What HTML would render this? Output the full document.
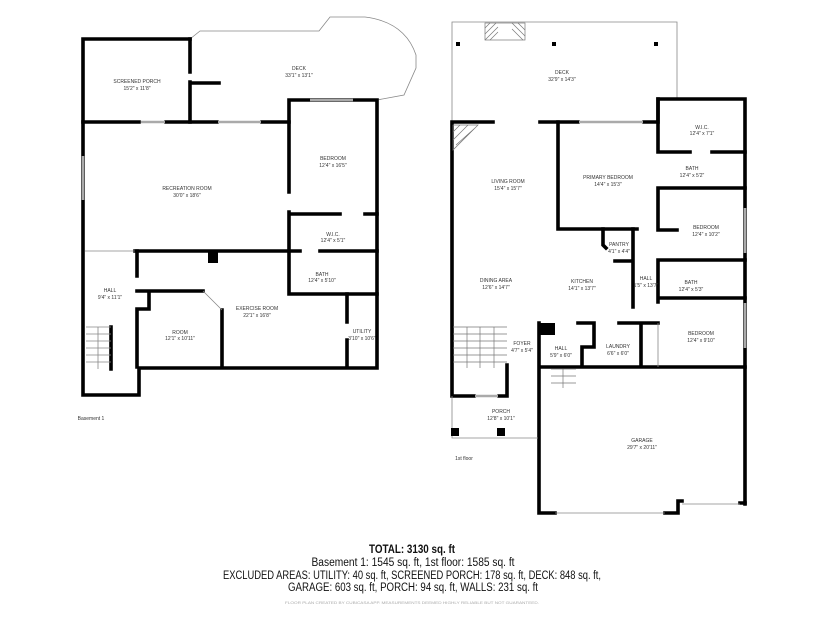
<!DOCTYPE html>
<html><head><meta charset="utf-8"><style>
html,body{margin:0;padding:0;background:#fff;}
svg{display:block;}
.w{stroke:#000;stroke-width:3.6;fill:none;stroke-linecap:square;}
.t{stroke:#888;stroke-width:0.8;fill:none;}
.win{stroke:#aaa;stroke-width:2.5;fill:none;}
.l{font-family:"Liberation Sans",sans-serif;font-size:5px;fill:#333;text-anchor:middle;}
.b{font-family:"Liberation Sans",sans-serif;font-size:11.5px;fill:#111;text-anchor:middle;}
</style></head><body>
<svg width="825" height="619" viewBox="0 0 825 619" xmlns="http://www.w3.org/2000/svg">
<!-- BASEMENT -->
<path class="t" d="M190,39 L200,31 L319,31 L330,17 L365,17 Q405,22 416,55 L416,68 L404,95 L377,100"/>
<path class="w" d="M190,39 L83,39 L83,395 L139,395 L139,368 L377,368 L377,100 L289,100 L289,192"/>
<path class="w" d="M190,39 L190,72 M190,82 L190,122 M190,83 L219,83"/>
<path class="w" d="M83,122 L139,122 M166,122 L217,122 M262,122 L289,122"/>
<path class="win" d="M141,122 L165,122 M218,122 L261,122 M310,100 L353,100 M83,156 L83,200"/>
<path class="w" d="M289,212 L289,294 L377,294 M289,214 L340,214 M365,214 L377,214"/>
<path class="w" d="M135,251 L300,251 M320,251 L377,251"/>
<rect x="208" y="252" width="10" height="11" fill="#000"/>
<path class="w" d="M347,294 L347,322 M347,340 L347,367"/>
<path class="w" d="M137,251 L137,276 M137,291 L203,291 M222,310 L222,367 M149,291 L149,309 L137,309 L137,367 M111,327 L111,369"/>
<path class="t" d="M203,291 L222,310 M85,251 L135,251"/>
<g class="t"><path d="M86,327 L111,327 M86,334 L111,334 M86,341 L111,341 M86,348 L111,348 M86,355 L111,355 M86,362 L111,362 M98,327 L98,369"/></g>
<text class="l" x="137" y="83">SCREENED PORCH</text><text class="l" x="137" y="90">15'2" x 11'8"</text>
<text class="l" x="299" y="70">DECK</text><text class="l" x="299" y="77">33'1" x 13'1"</text>
<text class="l" x="333" y="160">BEDROOM</text><text class="l" x="333" y="167">12'4" x 16'5"</text>
<text class="l" x="187" y="190">RECREATION ROOM</text><text class="l" x="187" y="197">30'0" x 18'6"</text>
<text class="l" x="333" y="236">W.I.C.</text><text class="l" x="333" y="242">12'4" x 5'1"</text>
<text class="l" x="322" y="276">BATH</text><text class="l" x="322" y="282">12'4" x 5'10"</text>
<text class="l" x="110" y="292">HALL</text><text class="l" x="110" y="299">9'4" x 11'1"</text>
<text class="l" x="257" y="310">EXERCISE ROOM</text><text class="l" x="257" y="317">22'1" x 16'8"</text>
<text class="l" x="180" y="334">ROOM</text><text class="l" x="180" y="340">12'1" x 10'11"</text>
<text class="l" x="362" y="333">UTILITY</text><text class="l" x="362" y="340">3'10" x 10'6"</text>
<text class="l" x="91" y="420">Basement 1</text>
<!-- FIRST FLOOR -->
<path class="t" d="M452,122 L452,22 L677,22 L677,98"/>
<g stroke="#777" stroke-width="0.7" fill="none"><rect x="485" y="23" width="40" height="17"/><path d="M485,28 L490,23 M485,34 L496,23 M485,40 L498,27 M490,40 L498,32 M512,23 L525,36 M512,29 L523,40 M518,23 L525,30"/></g>
<rect x="456" y="42" width="4" height="4"/><rect x="552" y="42" width="4" height="4"/><rect x="654" y="42" width="4" height="4"/>
<path class="w" d="M452,122 L493,122 M540,122 L578,122 M644,122 L658,122 L658,99 L745,99 L745,504 M452,122 L452,396 L474,396 M499,396 L507,396 L507,365"/>
<path class="win" d="M579,122 L643,122 M745,208 L745,253 M745,303 L745,348 M475,396 L498,396"/>
<path class="w" d="M658,99 L658,152 L690,152 M712,152 L745,152 M658,188 L745,188 M658,188 L658,230 L677,230 M558,122 L558,229 L637,229"/>
<path class="w" d="M658,260 L745,260 M658,260 L658,302 M658,298 L745,298 M603,229 L603,245 L606,248 M615,261 L633,261 M633,229 L633,307"/>
<path class="w" d="M578,323 L594,323 M594,323 L594,347 L582,347 L582,367 M619,323 L658,323 M641,323 L641,367 M539,323 L539,513 L555,513 M665,513 L678,513 L678,501 L682,501 M740,503 L745,503 M539,367 L745,367"/>
<rect x="540" y="323" width="15" height="12" fill="#000"/>
<path class="t" d="M555,513 L665,513 M682,504 L740,504 M452,396 L452,438 L538,438 M658,323 L658,367"/>
<g stroke="#777" stroke-width="0.7" fill="none"><path d="M453,327 L507,327 M453,334 L507,334 M453,341 L507,341 M453,348 L507,348 M453,355 L507,355 M453,362 L507,362 M480,327 L480,368 M467,327 L467,368 M494,327 L494,368 M551,369 L576,369 M551,376 L576,376 M551,383 L576,383 M563,369 L563,388"/><path d="M453,125 L478,125 L453,150 Z M453,132 L460,125 M453,140 L468,125 M456,145 L475,128"/></g>
<rect x="451" y="428" width="8" height="8"/><rect x="497" y="428" width="8" height="8"/>
<text class="l" x="562" y="74">DECK</text><text class="l" x="562" y="81">32'9" x 14'3"</text>
<text class="l" x="508" y="183">LIVING ROOM</text><text class="l" x="508" y="190">15'4" x 15'7"</text>
<text class="l" x="608" y="179">PRIMARY BEDROOM</text><text class="l" x="608" y="186">14'4" x 15'3"</text>
<text class="l" x="702" y="129">W.I.C.</text><text class="l" x="702" y="135">12'4" x 7'1"</text>
<text class="l" x="692" y="170">BATH</text><text class="l" x="692" y="177">12'4" x 5'2"</text>
<text class="l" x="706" y="229">BEDROOM</text><text class="l" x="706" y="236">12'4" x 10'2"</text>
<text class="l" x="619" y="246">PANTRY</text><text class="l" x="619" y="253">4'1" x 4'4"</text>
<text class="l" x="496" y="282">DINING AREA</text><text class="l" x="496" y="289">12'6" x 14'7"</text>
<text class="l" x="582" y="283">KITCHEN</text><text class="l" x="582" y="290">14'1" x 13'7"</text>
<text class="l" x="646" y="280">HALL</text><text class="l" x="646" y="287">1'5" x 13'7"</text>
<text class="l" x="691" y="284">BATH</text><text class="l" x="691" y="291">12'4" x 5'3"</text>
<text class="l" x="701" y="335">BEDROOM</text><text class="l" x="701" y="342">12'4" x 9'10"</text>
<text class="l" x="522" y="345">FOYER</text><text class="l" x="522" y="352">4'7" x 5'4"</text>
<text class="l" x="561" y="350">HALL</text><text class="l" x="561" y="357">5'9" x 6'0"</text>
<text class="l" x="618" y="348">LAUNDRY</text><text class="l" x="618" y="355">6'6" x 6'0"</text>
<text class="l" x="501" y="413">PORCH</text><text class="l" x="501" y="420">12'8" x 10'1"</text>
<text class="l" x="642" y="442">GARAGE</text><text class="l" x="642" y="449">29'7" x 20'11"</text>
<text class="l" x="464" y="460">1st floor</text>
<!-- SUMMARY -->
<text class="b" x="412" y="553" font-weight="bold" textLength="86" lengthAdjust="spacingAndGlyphs">TOTAL: 3130 sq. ft</text>
<text class="b" x="413" y="566" textLength="203" lengthAdjust="spacingAndGlyphs">Basement 1: 1545 sq. ft, 1st floor: 1585 sq. ft</text>
<text class="b" x="412" y="579" textLength="378" lengthAdjust="spacingAndGlyphs">EXCLUDED AREAS: UTILITY: 40 sq. ft, SCREENED PORCH: 178 sq. ft, DECK: 848 sq. ft,</text>
<text class="b" x="413" y="591" textLength="250" lengthAdjust="spacingAndGlyphs">GARAGE: 603 sq. ft, PORCH: 94 sq. ft, WALLS: 231 sq. ft</text>
<text class="l" x="412" y="604" style="font-size:4px;fill:#aaa" textLength="254" lengthAdjust="spacingAndGlyphs">FLOOR PLAN CREATED BY CUBICASA APP. MEASUREMENTS DEEMED HIGHLY RELIABLE BUT NOT GUARANTEED.</text>
</svg>
</body></html>
